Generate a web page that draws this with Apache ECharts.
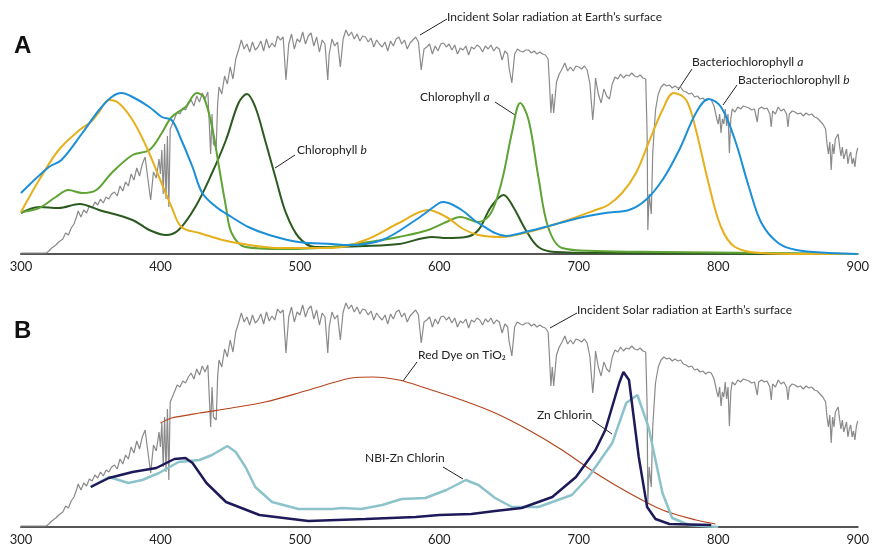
<!DOCTYPE html>
<html>
<head>
<meta charset="utf-8">
<script src="https://cdn.jsdelivr.net/npm/echarts@6/dist/echarts.min.js"></script>
<style>
  html, body { margin: 0; padding: 0; background: #fff; }
  #chart { width: 872px; height: 546px; }
</style>
</head>
<body>
<div id="chart"></div>
<script>
// wavelength ticks (nm)
var xTicks = [300, 400, 500, 600, 700, 800, 900];

// incident solar radiation at Earth's surface, [nm, relative]
var solar = [[300,1],[318,1],[320,3],[322,6],[325,9],[327,12],[330,15],[332,21],[334,19],[336,26],[338,30],[340,38],[341,43],[343,37],[345,44],[347,41],[349,48],[351,46],[353,52],[355,49],[357,55],[359,51],[361,57],[363,55],[365,60],[367,62],[369,58],[371,68],[373,63],[375,72],[377,68],[379,80],[381,74],[383,86],[385,78],[387,90],[389,97],[391,75],[393,54],[395,82],[397,76],[399,95],[400,80],[401,104],[402,60],[403,110],[404,55],[405,118],[406,47],[407,125],[408,127],[410,135],[412,142],[414,140],[416,146],[418,144],[420,150],[422,154],[424,148],[426,158],[428,152],[430,161],[432,155],[434,162],[436,100],[437,140],[438,110],[440,107],[441,150],[442,167],[444,160],[446,178],[448,170],[450,187],[452,175],[454,195],[456,204],[458,214],[460,205],[462,210],[464,202],[466,212],[468,204],[470,207],[472,213],[474,203],[476,215],[478,206],[480,211],[482,207],[484,218],[486,214],[488,217],[490,174],[492,210],[494,220],[496,205],[498,215],[500,212],[502,222],[504,210],[506,218],[508,221],[510,208],[512,217],[514,202],[516,214],[518,210],[520,174],[521,200],[523,215],[525,208],[527,212],[529,187],[531,215],[533,224],[535,218],[537,222],[539,215],[541,220],[543,213],[545,218],[547,217],[549,212],[551,216],[553,207],[555,214],[557,210],[559,207],[561,212],[563,203],[565,213],[567,208],[569,215],[571,217],[573,210],[575,214],[577,205],[579,211],[581,214],[583,217],[585,212],[587,184],[589,205],[591,207],[593,210],[595,200],[597,208],[599,203],[601,210],[603,211],[605,207],[607,210],[609,204],[611,209],[613,200],[615,206],[617,204],[619,208],[621,199],[623,207],[625,205],[627,209],[629,207],[631,202],[633,208],[635,205],[637,209],[639,203],[641,207],[643,205],[645,194],[647,203],[649,200],[650,186],[652,171],[654,200],[656,205],[658,203],[660,202],[662,204],[664,204],[666,201],[668,203],[670,200],[672,202],[674,200],[676,199],[678,195],[679,170],[680,141],[681,160],[682,141],[684,172],[686,180],[688,185],[690,191],[692,183],[694,187],[696,183],[698,188],[700,187],[702,185],[704,188],[706,184],[708,170],[710,134],[711,150],[712,176],[714,160],[716,151],[718,165],[720,158],[722,155],[724,170],[726,177],[728,175],[730,180],[732,176],[734,179],[736,178],[738,181],[740,178],[742,177],[744,179],[746,176],[748,175],[749,120],[749.5,24],[750.5,60],[751.5,61],[752,40],[753,100],[755,144],[757,160],[759,167],[761,170],[763,168],[765,169],[767,166],[769,168],[771,166],[773,167],[775,163],[777,162],[779,160],[781,161],[783,157],[785,158],[787,155],[789,156],[791,153],[793,155],[795,154],[797,148],[799,135],[800,130],[801,140],[802,121],[803,135],[804,130],[805,145],[806,128],[807,140],[808,101],[809,135],[810,145],[812,142],[814,147],[816,145],[818,148],[820,147],[822,146],[824,144],[826,145],[828,132],[829,145],[831,147],[833,145],[835,146],[837,140],[838,127],[839,143],[841,140],[843,147],[845,143],[847,145],[849,140],[850,127],[851,140],[853,143],[855,142],[857,140],[859,141],[861,138],[863,141],[865,139],[867,140],[869,137],[871,136],[873,133],[875,130],[877,125],[878,110],[879,100],[880,112],[881,84],[882,110],[883,100],[884,115],[886,120],[887,108],[888,98],[889,107],[890,95],[891,100],[892,105],[893,90],[894,98],[895,102],[896,90],[897,96],[898,87],[899,100],[900,106]];

// panel A absorption spectra
var bchlB = [[300,61],[320,87],[329,94],[344,121],[356,144],[365,157],[372,161],[380,157],[392,147],[401,137],[408,134],[415,114],[423,87],[430,61],[440,47],[451,37],[463,27],[478,19],[499,12],[523,10],[535,9],[559,14],[583,34],[600,51],[603,52],[616,44],[628,31],[648,18],[659,21],[676,27],[700,36],[719,41],[736,44],[748,54],[760,74],[772,104],[784,141],[793,155],[802,147],[812,114],[822,67],[831,31],[843,11],[856,4],[879,1],[900,0]];
var bchlA = [[300,42],[313,74],[327,104],[342,124],[350,132],[356,142],[363,154],[370,151],[380,134],[390,107],[399,77],[408,47],[415,27],[428,21],[451,12],[487,6],[523,6],[547,14],[571,31],[592,44],[605,37],[616,26],[628,19],[645,17],[664,22],[688,32],[712,44],[721,49],[731,61],[741,81],[750,111],[760,144],[768,161],[777,154],[784,124],[793,71],[802,27],[812,7],[831,1],[860,0],[900,0]];
var chlA = [[300,42],[313,46],[325,57],[334,64],[344,61],[354,64],[365,81],[380,99],[392,104],[401,121],[408,137],[418,147],[426,161],[431,157],[437,127],[442,87],[447,47],[451,21],[461,7],[487,5],[523,7],[559,14],[571,17],[592,24],[605,32],[615,37],[628,32],[637,41],[645,74],[652,121],[658,151],[664,134],[671,77],[678,27],[688,6],[712,3],[760,2],[900,0]];
var chlB = [[300,41],[313,47],[327,46],[342,50],[356,44],[380,34],[392,24],[404,19],[413,24],[425,47],[437,81],[447,114],[456,151],[462,160],[468,147],[475,114],[483,74],[490,41],[499,17],[511,7],[547,8],[571,10],[595,17],[605,16],[619,17],[628,24],[637,47],[646,59],[653,47],[662,24],[671,7],[683,2],[720,1],[900,0]];

// panel B absorption spectra
var redDye = [[400,104],[408,109],[428,114],[451,119],[475,125],[499,134],[523,144],[537,149],[552,150],[571,147],[590,139],[616,127],[640,114],[664,97],[688,77],[712,54],[736,34],[760,17],[784,7],[798,3]];
var nbiZn = [[350,40],[363,50],[370,47],[377,44],[387,47],[399,54],[413,65],[428,67],[437,72],[448,81],[454,75],[461,60],[468,40],[480,25],[499,18],[523,18],[530,19],[544,18],[559,22],[573,28],[590,29],[605,37],[619,47],[628,42],[640,29],[652,20],[671,20],[695,32],[707,50],[717,70],[724,84],[734,124],[742,132],[750,100],[760,34],[767,9],[779,2],[800,0]];
var znChlorin = [[350,40],[363,49],[380,55],[397,59],[410,68],[418,69],[423,64],[433,44],[447,25],[471,12],[506,6],[547,8],[583,10],[600,12],[623,13],[640,16],[659,19],[681,30],[698,50],[712,77],[719,97],[729,144],[732,155],[736,147],[743,70],[749,20],[755,8],[765,3],[795,2]];

var FONT = 'Lato, "Liberation Sans", sans-serif';

function xAxisFor(gi) {
  return {
    type: 'value', gridIndex: gi, min: 300, max: 900, interval: 100,
    axisLine: { lineStyle: { color: '#555', width: 2 } },
    axisTick: { show: false },
    splitLine: { show: false },
    axisLabel: {
      color: '#222', fontSize: 13, fontFamily: FONT, margin: 6,
      formatter: function (v) { return xTicks.indexOf(v) >= 0 ? String(v) : ''; }
    }
  };
}
function yAxisFor(gi) {
  return { type: 'value', gridIndex: gi, min: 0, max: 240, show: false };
}
function line(data, color, width, gi, smooth) {
  return {
    type: 'line', data: data, xAxisIndex: gi, yAxisIndex: gi,
    showSymbol: false, smooth: smooth, silent: true,
    lineStyle: { color: color, width: width }
  };
}

function label(x, y, text, rich) {
  return {
    type: 'text', left: x, top: y,
    style: { text: text, font: '12px ' + FONT, fill: '#222', rich: rich }
  };
}
function leader(x1, y1, x2, y2) {
  return { type: 'line', shape: { x1: x1, y1: y1, x2: x2, y2: y2 }, style: { stroke: '#222', lineWidth: 1 } };
}
var ital = { i: { fontStyle: 'italic', font: 'italic 12px ' + FONT, fill: '#222' } };

var chart = echarts.init(document.getElementById('chart'));
chart.setOption({
  animation: false,
  grid: [
    { left: 21, right: 13, top: 14, bottom: 292 },
    { left: 21, right: 13, top: 287, bottom: 19 }
  ],
  xAxis: [xAxisFor(0), xAxisFor(1)],
  yAxis: [yAxisFor(0), yAxisFor(1)],
  series: [
    line(solar, '#8a8a8a', 1.2, 0, false),
    line(chlB, '#2b5a1f', 2, 0, 0.35),
    line(chlA, '#5ea333', 2, 0, 0.35),
    line(bchlA, '#e6b01c', 2, 0, 0.35),
    line(bchlB, '#1b8fd8', 2, 0, 0.35),
    line(solar, '#8a8a8a', 1.2, 1, false),
    line(redDye, '#b4441c', 1.2, 1, 0.3),
    line(nbiZn, '#8cc3ca', 2.5, 1, false),
    line(znChlorin, '#1e1a5a', 2.5, 1, false)
  ],
  graphic: [
    { type: 'text', left: 14, top: 34, style: { text: 'A', font: 'bold 24px "Liberation Sans", Arial, sans-serif', fill: '#111' } },
    { type: 'text', left: 14, top: 319, style: { text: 'B', font: 'bold 24px "Liberation Sans", Arial, sans-serif', fill: '#111' } },

    leader(420, 35, 447, 19),
    label(447, 11, "Incident Solar radiation at Earth\u2019s surface"),
    leader(275, 168, 295, 155),
    label(297, 144, '{n|Chlorophyll }{i|b}', ital),
    leader(495, 102, 515, 115),
    label(420, 91, '{n|Chlorophyll }{i|a}', ital),
    leader(692, 69, 678, 90),
    label(692, 56, '{n|Bacteriochlorophyll }{i|a}', ital),
    leader(737, 85, 723, 105),
    label(738, 74, '{n|Bacteriochlorophyll }{i|b}', ital),

    leader(577, 313, 550, 328),
    label(577, 304, "Incident Solar radiation at Earth\u2019s surface"),
    leader(417, 362, 403, 381),
    label(418, 349, 'Red Dye on TiO\u2082'),
    leader(443, 467, 463, 479),
    label(365, 452, 'NBI-Zn Chlorin'),
    leader(592, 420, 612, 434),
    label(537, 409, 'Zn Chlorin')
  ]
});
</script>
</body>
</html>
